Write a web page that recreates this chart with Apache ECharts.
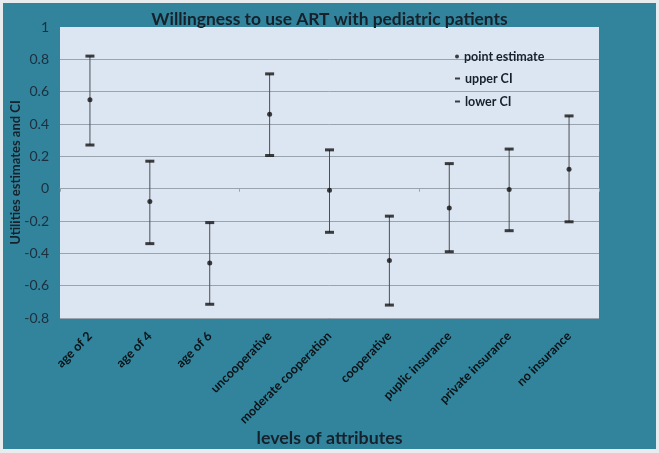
<!DOCTYPE html>
<html><head><meta charset="utf-8">
<script src="https://cdn.jsdelivr.net/npm/echarts@6/dist/echarts.min.js"></script>
<style>
html,body{margin:0;padding:0;background:#e9ecee;width:659px;height:453px;overflow:hidden;}
#c{position:absolute;left:3px;top:3px;width:653px;height:446px;}
</style></head>
<body><div id="c"></div>
<script>
const categories = ['age of 2','age of 4','age of 6','uncooperative','moderate cooperation','cooperative','puplic insurance','private insurance','no insurance'];
const pointEstimate = [0.55, -0.08, -0.46, 0.46, -0.01, -0.445, -0.12, -0.005, 0.12];
const upperCI = [0.82, 0.17, -0.21, 0.71, 0.24, -0.17, 0.155, 0.245, 0.45];
const lowerCI = [0.27, -0.34, -0.715, 0.205, -0.27, -0.72, -0.39, -0.26, -0.205];
const yTicks = {min: -0.8, max: 1, interval: 0.2};

const font = 'Lato';
const dark = '#16212c';
const legendText = {fontFamily: font, fontSize: 12.5, fontWeight: 'bold', color: dark};
const chart = echarts.init(document.getElementById('c'));
chart.setOption({
  backgroundColor: '#31849b',
  animation: false,
  textStyle: {fontFamily: font},
  title: {
    text: 'Willingness to use ART with pediatric patients',
    left: 'center', top: 3,
    textStyle: {fontFamily: font, fontSize: 17.4, fontWeight: 'bold', color: dark}
  },
  grid: {left: 57, right: 57, top: 24, bottom: 131, show: true, backgroundColor: '#dce6f2', borderWidth: 0,
         containLabel: false, outerBoundsMode: 'none'},
  legend: [
    {data: ['point estimate'], left: 447, top: 42, itemWidth: 4, itemHeight: 4, icon: 'circle', textStyle: legendText},
    {data: ['upper CI'], left: 447, top: 64, itemWidth: 5, itemHeight: 2, icon: 'rect', textStyle: legendText},
    {data: ['lower CI'], left: 447, top: 87, itemWidth: 5, itemHeight: 2, icon: 'rect', textStyle: legendText}
  ],
  xAxis: [
    {type: 'category', data: categories, position: 'bottom',
     axisLine: {show: false, onZero: false}, axisTick: {show: false},
     axisLabel: {rotate: 45, interval: 0, margin: 16, fontFamily: font, fontSize: 12.5, fontWeight: 'bold', color: '#0d1217'},
     name: 'levels of attributes', nameLocation: 'middle', nameGap: 111, nameMoveOverlap: false,
     nameTextStyle: {fontFamily: font, fontSize: 17.8, fontWeight: 'bold', color: dark}},
    {type: 'category', data: categories, position: 'bottom',
     axisLine: {show: true, onZero: true, lineStyle: {color: '#98a3ae', width: 1}},
     axisTick: {show: true, length: 3, lineStyle: {color: '#98a3ae'}},
     axisLabel: {show: false}}
  ],
  yAxis: {
    type: 'value', min: yTicks.min, max: yTicks.max, interval: yTicks.interval,
    axisLine: {show: false}, axisTick: {show: false},
    axisLabel: {margin: 11, fontFamily: font, fontSize: 14, color: '#1d2e3e',
      formatter: v => String(Math.round(v * 10) / 10)},
    splitLine: {show: true, showMaxLine: false, lineStyle: {color: '#98a3ae', width: 1}},
    name: 'Utilities estimates and CI', nameLocation: 'middle', nameGap: 38, nameMoveOverlap: false,
    nameTextStyle: {fontFamily: font, fontSize: 13, fontWeight: 'bold', color: dark}
  },
  series: [
    {type: 'custom', name: 'range', xAxisIndex: 0, silent: true,
     data: categories.map((c, i) => [i, lowerCI[i], upperCI[i]]),
     renderItem: (params, api) => {
       const p1 = api.coord([api.value(0), api.value(1)]);
       const p2 = api.coord([api.value(0), api.value(2)]);
       return {type: 'line', shape: {x1: p1[0], y1: p1[1], x2: p2[0], y2: p2[1]},
               style: {stroke: '#4a4f55', lineWidth: 1}};
     }, z: 2},
    {type: 'scatter', name: 'point estimate', data: pointEstimate, symbol: 'circle', symbolSize: 5,
     itemStyle: {color: '#111'}, z: 3},
    {type: 'scatter', name: 'upper CI', data: upperCI, symbol: 'rect', symbolSize: [9, 3],
     itemStyle: {color: '#111'}, z: 3},
    {type: 'scatter', name: 'lower CI', data: lowerCI, symbol: 'rect', symbolSize: [9, 3],
     itemStyle: {color: '#111'}, z: 3}
  ]
});
</script></body></html>
